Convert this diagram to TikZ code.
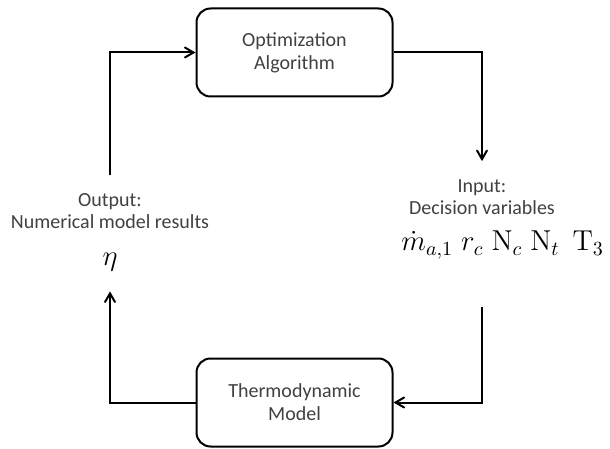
\documentclass[tikz,border=0pt]{standalone}
\usepackage{amsmath}
\usepackage[no-math]{fontspec}
\setmainfont{Carlito}
\usepackage{tikz}
\usetikzlibrary{shapes.geometric, arrows}
\tikzstyle{block} = [rectangle, rounded corners=7pt, minimum width=98pt, minimum height=44pt, text centered, align=center, draw=black, line width=1pt, text=black!75, font=\fontsize{10}{11.5}\selectfont]
\tikzstyle{iotext} = [align=center, inner sep=1pt, text=black!75, font=\fontsize{10}{11}\selectfont]
\tikzstyle{mathrow} = [inner sep=0pt, font=\fontsize{14.5}{16}\selectfont]
\tikzstyle{arrow} = [line width=1pt,->,>=angle 60]

\begin{document}
\begin{tikzpicture}[x=0.5pt, y=-0.5pt]
\useasboundingbox (0,0) rectangle (610,449);

\node (optim) [block] at (294.5,52.5) {Optimization\\Algorithm};
\node (thermo) [block] at (294.5,402.5) {Thermodynamic\\Model};
\node (input) [iotext] at (482,197) {Input:\\Decision variables};
\node (vars) [mathrow, anchor=west] at (401,245) {$\dot{m}_{a,1}\; r_c\; \mathrm{N}_c\; \mathrm{N}_t\;\, \mathrm{T}_3$};
\node (output) [iotext] at (110,211) {Output:\\Numerical model results};
\node (eta) [mathrow, font=\fontsize{15}{16}\selectfont] at (110,262) {$\eta$};

\draw [arrow] (optim.east) -| ([yshift=8pt]input.north);
\draw [arrow] ([yshift=-24pt]vars.south -| input.south) |- (thermo.east);
\draw [arrow] (thermo.west) -| ([yshift=-10pt]eta.south);
\draw [arrow] ([yshift=8pt]output.north) |- (optim.west);

\end{tikzpicture}
\end{document}
